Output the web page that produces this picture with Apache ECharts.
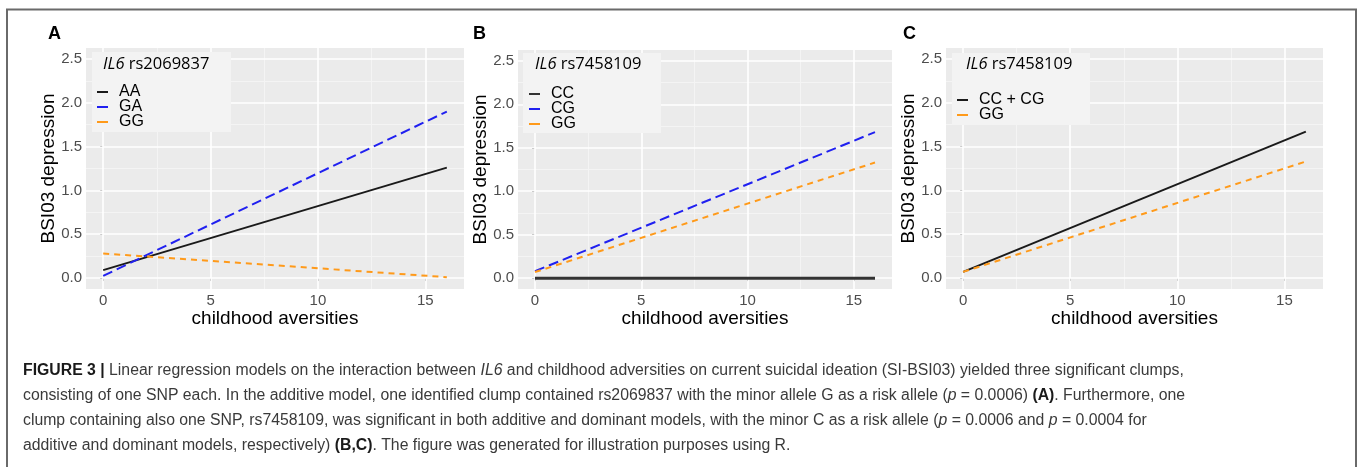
<!DOCTYPE html>
<html>
<head>
<meta charset="utf-8">
<script src="https://cdn.jsdelivr.net/npm/echarts@6/dist/echarts.min.js"></script>
<style>html,body{margin:0;padding:0;background:#fff;}#c{width:1358px;height:467px;}</style>
</head>
<body>
<div id="c"></div>
<script>
// ---- data ----
const xEnds = [0, 16];
const xTicks = [0, 5, 10, 15];
const xMinor = [2.5, 7.5, 12.5];
const yTicks = [0, 0.5, 1.0, 1.5, 2.0, 2.5];
const yMinor = [0.25, 0.75, 1.25, 1.75, 2.25];
const panelLetters = ['A', 'B', 'C'];
const snpTitles = ['rs2069837', 'rs7458109', 'rs7458109'];
const namesA = ['AA', 'GA', 'GG'];
const namesB = ['CC', 'CG', 'GG'];
const namesC = ['CC + CG', 'GG'];
const aAA = [0.09, 1.26];
const aGA = [0.025, 1.90];
const aGG = [0.28, 0.01];
const bCC = [0.0, 0.0];
const bCG = [0.08, 1.68];
const bGG = [0.07, 1.33];
const cCCCG = [0.07, 1.67];
const cGG = [0.07, 1.33];
const captionLines = [
  '{b|FIGURE 3 |} Linear regression models on the interaction between {i|IL6} and childhood adversities on current suicidal ideation (SI-BSI03) yielded three significant clumps,',
  'consisting of one SNP each. In the additive model, one identified clump contained rs2069837 with the minor allele G as a risk allele ({i|p} = 0.0006) {b|(A)}. Furthermore, one',
  'clump containing also one SNP, rs7458109, was significant in both additive and dominant models, with the minor C as a risk allele ({i|p} = 0.0006 and {i|p} = 0.0004 for',
  'additive and dominant models, respectively) {b|(B,C)}. The figure was generated for illustration purposes using R.'
];

// ---- layout ----
const grids = [
  {left: 86, top: 48, width: 378, height: 241},
  {left: 518, top: 50, width: 374, height: 239},
  {left: 946, top: 48, width: 377, height: 241}
];
const legendBoxes = [
  {x: 92, y: 52, w: 139, h: 80, titleX: 103, itemX: 97, itemTop: 84},
  {x: 523, y: 53, w: 138, h: 80, titleX: 535, itemX: 529, itemTop: 86},
  {x: 952, y: 53, w: 138, h: 72, titleX: 966, itemX: 957, itemTop: 92}
];
const letterX = [48, 473, 903];

const BLACK = '#1a1a1a', BLUE = '#2020f0', ORANGE = '#ff9a1a';
const styleSolid = {color: BLACK, width: 2, type: 'solid'};
const styleBlue = {color: BLUE, width: 2, type: [10, 5]};
const styleOrange = {color: ORANGE, width: 2, type: [6, 5]};

function pts(v) { return xEnds.map((x, i) => [x, v[i]]); }

const xAxes = [], yAxes = [], series = [], legends = [], graphics = [];
const FONT = 'Liberation Sans, Arial';

grids.forEach((g, k) => {
  xAxes.push({
    type: 'value', gridIndex: k, min: -0.8, max: 16.8,
    axisLine: {show: false},
    axisTick: {show: true, length: 3, lineStyle: {color: '#333', width: 1}, customValues: xTicks},
    axisLabel: {customValues: xTicks, color: '#4d4d4d', fontSize: 15, fontFamily: FONT, margin: 4},
    splitLine: {show: false},
    name: 'childhood aversities', nameLocation: 'middle', nameGap: 20, nameMoveOverlap: false,
    nameTextStyle: {fontSize: 19, color: '#000', fontFamily: FONT}
  });
  yAxes.push({
    type: 'value', gridIndex: k, min: -0.125, max: 2.625,
    axisLine: {show: false},
    axisTick: {show: true, length: 3, lineStyle: {color: '#333', width: 1}, customValues: yTicks},
    axisLabel: {customValues: yTicks, color: '#4d4d4d', fontSize: 15, fontFamily: FONT, margin: 4,
      formatter: v => v.toFixed(1)},
    splitLine: {show: false},
    name: 'BSI03 depression', nameLocation: 'middle', nameGap: 28, nameMoveOverlap: false,
    nameTextStyle: {fontSize: 19, color: '#000', fontFamily: FONT}
  });
  const ml = [];
  yMinor.forEach(v => ml.push({yAxis: v, lineStyle: {color: '#f4f4f4', width: 1}}));
  xMinor.forEach(v => ml.push({xAxis: v, lineStyle: {color: '#f4f4f4', width: 1}}));
  yTicks.forEach(v => ml.push({yAxis: v, lineStyle: {color: '#ffffff', width: 1.6}}));
  xTicks.forEach(v => ml.push({xAxis: v, lineStyle: {color: '#ffffff', width: 1.6}}));
  series.push({
    type: 'line', xAxisIndex: k, yAxisIndex: k, data: pts([0, 0]), silent: true,
    showSymbol: false, symbol: 'none', lineStyle: {opacity: 0}, z: 1, animation: false,
    markLine: {silent: true, symbol: ['none', 'none'], label: {show: false}, animation: false,
      lineStyle: {type: 'solid'}, emphasis: {disabled: true}, data: ml}
  });
});

function addLine(k, name, vals, ls, z) {
  series.push({
    type: 'line', name: name, xAxisIndex: k, yAxisIndex: k, data: pts(vals),
    showSymbol: false, symbol: 'none', lineStyle: ls, itemStyle: {color: ls.color},
    z: z || 5, animation: false, silent: true
  });
}
addLine(0, namesA[0], aAA, styleSolid);
addLine(0, namesA[1], aGA, styleBlue);
addLine(0, namesA[2], aGG, styleOrange);
addLine(1, namesB[0], bCC, {color: '#333', width: 3, type: 'solid'});
addLine(1, namesB[1], bCG, styleBlue);
addLine(1, namesB[2], bGG, styleOrange);
addLine(2, namesC[0], cCCCG, styleSolid);
addLine(2, namesC[1], cGG, styleOrange);

const legendNames = [namesA, namesB, namesC];
legendBoxes.forEach((b, k) => {
  graphics.push({type: 'rect', shape: {x: b.x, y: b.y, width: b.w, height: b.h}, style: {fill: '#f3f3f3'}, z: 10, silent: true});
  graphics.push({type: 'text', x: b.titleX, y: 64, z: 11, silent: true,
    style: {text: '{i|IL6} ' + snpTitles[k], fill: '#000', fontSize: 16.5, fontFamily: 'Open Sans', verticalAlign: 'middle',
      rich: {i: {fontStyle: 'italic', fontSize: 16.5, fontFamily: 'Open Sans', fill: '#000'}}}});
  legends.push({
    data: legendNames[k], orient: 'vertical', left: b.itemX, top: b.itemTop, padding: 0, itemGap: -1,
    icon: 'rect', itemWidth: 11, itemHeight: 2, selectedMode: false, z: 12,
    textStyle: {fontSize: 16, lineHeight: 14, color: '#000', fontFamily: FONT, padding: [0, 0, 0, 6]}
  });
  graphics.push({type: 'text', x: letterX[k], y: 34, z: 11, silent: true,
    style: {text: panelLetters[k], fill: '#000', fontSize: 18, fontWeight: 'bold', fontFamily: FONT, verticalAlign: 'middle'}});
});

// caption
const CAP = 15.8;
captionLines.forEach((t, i) => {
  graphics.push({type: 'text', x: 23, y: 371 + i * 25, silent: true,
    style: {text: t, fill: '#3a3a3a', fontSize: CAP, fontFamily: FONT, verticalAlign: 'middle',
      rich: {
        b: {fontWeight: 'bold', fill: '#1a1a1a', fontSize: CAP, fontFamily: FONT},
        i: {fontStyle: 'italic', fill: '#3a3a3a', fontSize: CAP, fontFamily: FONT}
      }}});
});
// frame
graphics.push({type: 'polyline', shape: {points: [[7, 467], [7, 9.5], [1356, 9.5], [1356, 467]]},
  style: {stroke: '#6a6a6a', lineWidth: 2, fill: null}, silent: true});

const chart = echarts.init(document.getElementById('c'), null, {renderer: 'canvas'});
chart.setOption({
  animation: false,
  backgroundColor: '#ffffff',
  grid: grids.map(g => Object.assign({show: true, backgroundColor: '#ebebeb', borderWidth: 0, containLabel: false}, g)),
  xAxis: xAxes, yAxis: yAxes, series: series, legend: legends, graphic: graphics
});
</script>
</body>
</html>
